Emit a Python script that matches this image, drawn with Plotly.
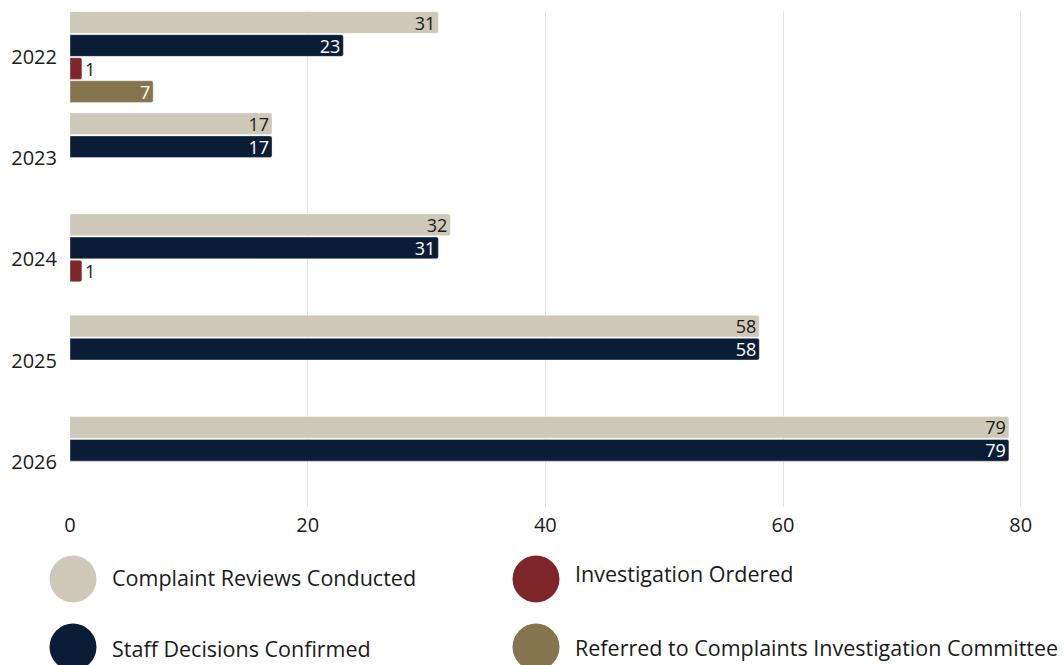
import plotly.graph_objects as go

# Yearly complaint-handling outcomes
years = ["2022", "2023", "2024", "2025", "2026"]
reviews_conducted = [31, 17, 32, 58, 79]
decisions_confirmed = [23, 17, 31, 58, 79]
investigation_ordered = [1, None, 1, None, None]
referred_to_committee = [7, None, None, None, None]

series_names = [
    "Complaint Reviews Conducted",
    "Staff Decisions Confirmed",
    "Investigation Ordered",
    "Referred to Complaints Investigation Committee",
]
series_values = [reviews_conducted, decisions_confirmed,
                 investigation_ordered, referred_to_committee]
series_colors = ["#CEC8B8", "#0B1D36", "#7F262B", "#85754E"]
inside_text_colors = ["#1a1a1a", "#ffffff", "#ffffff", "#ffffff"]
# short bars carry their label outside the bar end
label_positions = ["inside", "inside", "outside", "inside"]

FONT = "Open Sans"
W, H = 1064, 665
ML, MR, MT, MB = 70, 0, 11, 158

fig = go.Figure()
for name, vals, col, tcol, tpos in zip(series_names, series_values,
                                       series_colors, inside_text_colors,
                                       label_positions):
    fig.add_trace(go.Bar(
        y=years, x=vals, name=name, orientation="h",
        marker=dict(color=col, line=dict(color="rgba(255,255,255,0.6)", width=0.6)),
        text=[("" if v is None else str(v)) for v in vals],
        textposition=tpos,
        textangle=0,
        constraintext="none",
        insidetextanchor="end",
        insidetextfont=dict(family=FONT, size=18, color=tcol),
        outsidetextfont=dict(family=FONT, size=18, color="#1a1a1a"),
        cliponaxis=False,
        showlegend=False,
        hoverinfo="x+name",
    ))

# Legend drawn as large circular swatches with labels beneath the plot
plot_w = W - ML - MR
plot_h = H - MT - MB

def px_to_paper_x(px):
    return (px - ML) / plot_w

def px_to_paper_y(py):
    return (H - MB - py) / plot_h

legend_items = [
    (0, 73, 579, 110, 577),
    (2, 536, 579, 573, 573),
    (1, 73, 647, 110, 648),
    (3, 536, 647, 573, 647),
]
shapes = []
annotations = []
for idx, cx, cy, tx, ty in legend_items:
    shapes.append(dict(
        type="circle", xref="paper", yref="paper",
        xsizemode="pixel", ysizemode="pixel",
        xanchor=px_to_paper_x(cx), yanchor=px_to_paper_y(cy),
        x0=-23.5, x1=23.5, y0=-23.5, y1=23.5,
        fillcolor=series_colors[idx], line=dict(width=0),
    ))
    annotations.append(dict(
        xref="paper", yref="paper",
        x=px_to_paper_x(tx), y=px_to_paper_y(ty),
        xanchor="left", yanchor="middle", showarrow=False,
        text=series_names[idx],
        font=dict(family=FONT, size=21.5, color="#1a1a1a"),
    ))

fig.update_layout(
    width=W, height=H,
    margin=dict(l=ML, r=MR, t=MT, b=MB),
    paper_bgcolor="white", plot_bgcolor="white",
    barmode="group", bargap=0.09, bargroupgap=0.06,
    barcornerradius=2,
    font=dict(family=FONT, size=20, color="#1a1a1a"),
    xaxis=dict(
        range=[0, 83.64], tickvals=[0, 20, 40, 60, 80],
        showgrid=True, gridcolor="#e2e2e2", gridwidth=1,
        zeroline=False, showline=False,
        ticks="", ticklabelstandoff=4,
        tickfont=dict(family=FONT, size=20, color="#1a1a1a"),
    ),
    yaxis=dict(
        type="category", range=[4.446, -0.455],
        showgrid=False, zeroline=False, showline=False,
        ticks="outside", ticklen=8, tickcolor="rgba(0,0,0,0)",
        tickfont=dict(family=FONT, size=20, color="#1a1a1a"),
    ),
    shapes=shapes,
    annotations=annotations,
)

fig.write_html("out.html")
